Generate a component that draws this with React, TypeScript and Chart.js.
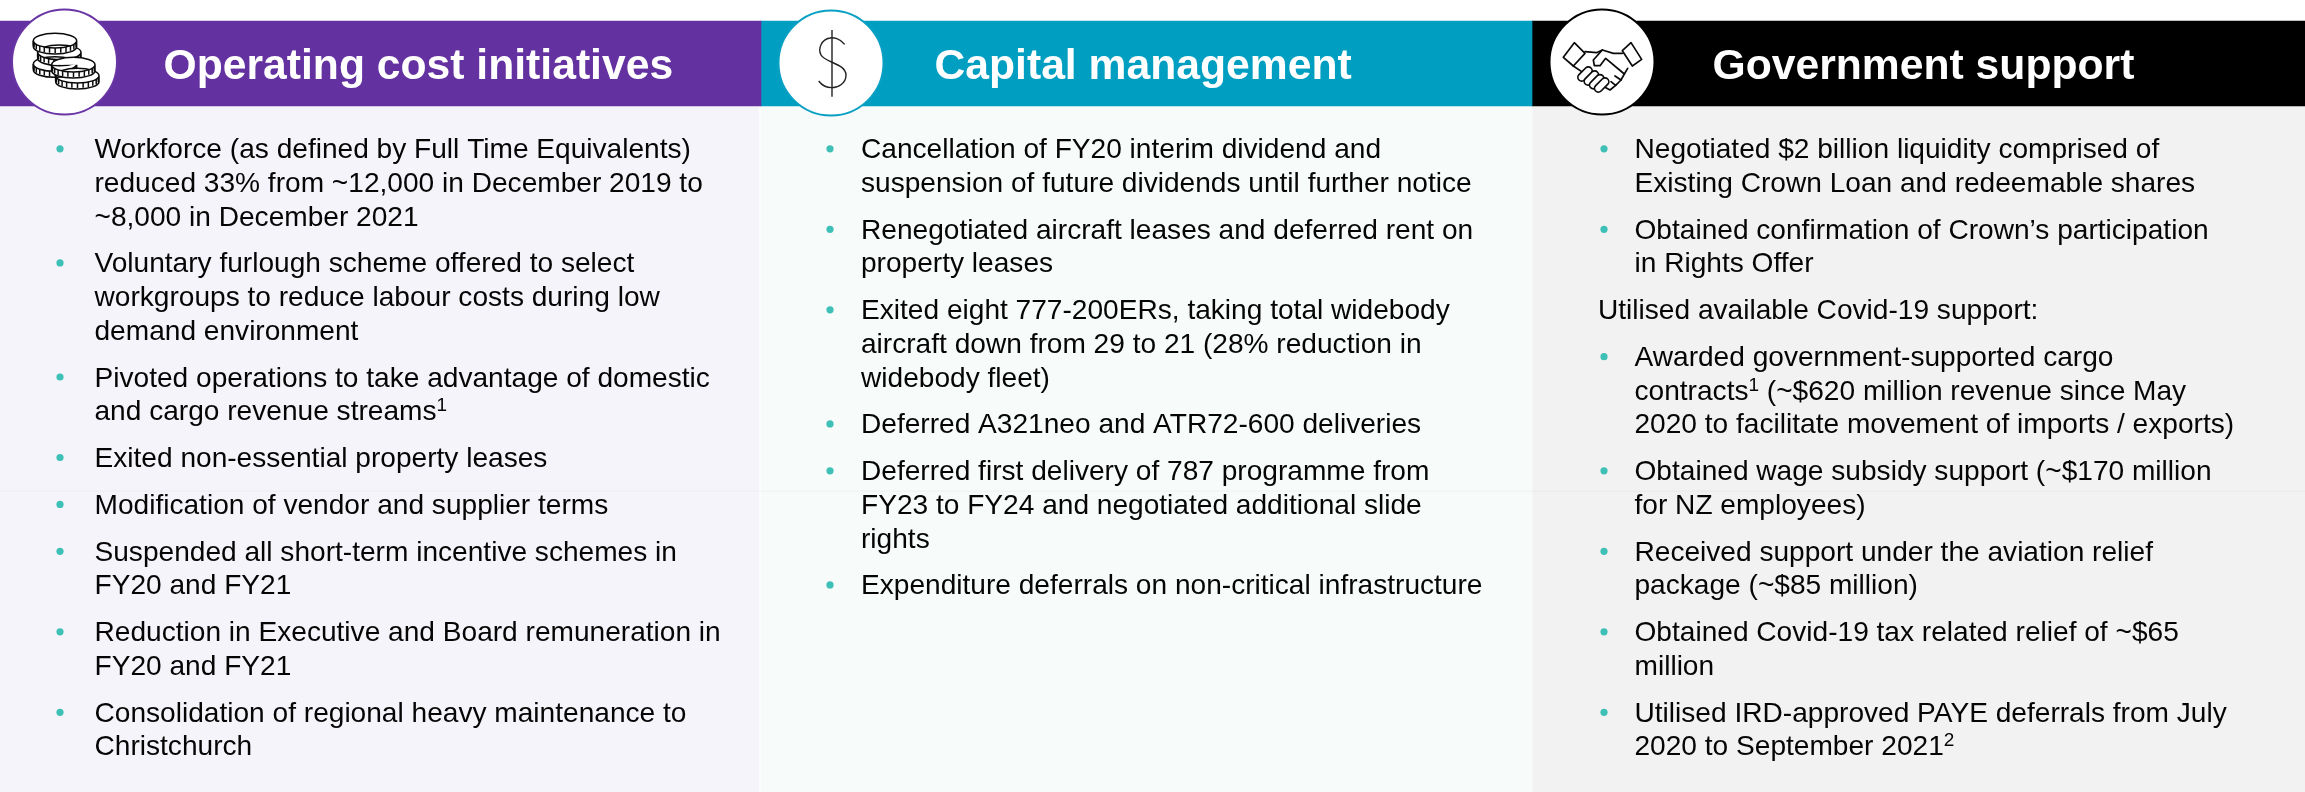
import React, { useEffect, useRef } from "react";
import { Chart, registerables } from "chart.js";

Chart.register(...registerables);

const panelTitles = ["Operating cost initiatives", "Capital management", "Government support"];

type Item = { lines: string[]; bullet: boolean };
const b = (...lines: string[]): Item => ({ lines, bullet: true });
const p = (...lines: string[]): Item => ({ lines, bullet: false });

const operatingItems: Item[] = [
  b("Workforce (as defined by Full Time Equivalents)", "reduced 33% from ~12,000 in December 2019 to", "~8,000 in December 2021"),
  b("Voluntary furlough scheme offered to select", "workgroups to reduce labour costs during low", "demand environment"),
  b("Pivoted operations to take advantage of domestic", "and cargo revenue streams^1"),
  b("Exited non-essential property leases"),
  b("Modification of vendor and supplier terms"),
  b("Suspended all short-term incentive schemes in", "FY20 and FY21"),
  b("Reduction in Executive and Board remuneration in", "FY20 and FY21"),
  b("Consolidation of regional heavy maintenance to", "Christchurch"),
];
const capitalItems: Item[] = [
  b("Cancellation of FY20 interim dividend and", "suspension of future dividends until further notice"),
  b("Renegotiated aircraft leases and deferred rent on", "property leases"),
  b("Exited eight 777-200ERs, taking total widebody", "aircraft down from 29 to 21 (28% reduction in", "widebody fleet)"),
  b("Deferred A321neo and ATR72-600 deliveries"),
  b("Deferred first delivery of 787 programme from", "FY23 to FY24 and negotiated additional slide", "rights"),
  b("Expenditure deferrals on non-critical infrastructure"),
];
const governmentItems: Item[] = [
  b("Negotiated $2 billion liquidity comprised of", "Existing Crown Loan and redeemable shares"),
  b("Obtained confirmation of Crown\u2019s participation", "in Rights Offer"),
  p("Utilised available Covid-19 support:"),
  b("Awarded government-supported cargo", "contracts^1 (~$620 million revenue since May", "2020 to facilitate movement of imports / exports)"),
  b("Obtained wage subsidy support (~$170 million", "for NZ employees)"),
  b("Received support under the aviation relief", "package (~$85 million)"),
  b("Obtained Covid-19 tax related relief of ~$65", "million"),
  b("Utilised IRD-approved PAYE deferrals from July", "2020 to September 2021^2"),
];

const W = 2305, H = 792;
const FONT = '"Liberation Sans", Arial, sans-serif';
const layout = [
  { left: 0, right: 761, bodyRight: 759, body: "#f6f4fb", head: "#6331a0", ring: "#6a35a5", cx: 64.5, titleX: 163.5, textX: 94.5, bulletX: 60, plainX: 0 },
  { left: 761, right: 1532, bodyRight: 1532, body: "#f7fbfa", head: "#009fc2", ring: "#0aa0c4", cx: 831, titleX: 934.5, textX: 861, bulletX: 830, plainX: 0 },
  { left: 1532, right: 2305, bodyRight: 2305, body: "#f2f2f2", head: "#000000", ring: "#000000", cx: 1602, titleX: 1712.5, textX: 1634.5, bulletX: 1604, plainX: 1598 },
];
const HEAD_TOP = 21, HEAD_BOTTOM = 106;
const FIRST_BASE = 158.3, LINE = 33.6, GAP = 13.3, BODY_SIZE = 28.1, TITLE_SIZE = 42.67, TITLE_BASE = 78.5;
const allItems = [operatingItems, capitalItems, governmentItems];

function walk(items: Item[], fn: (line: string, base: number, first: boolean, it: Item) => void) {
  let y = FIRST_BASE;
  items.forEach((it) => {
    it.lines.forEach((l, i) => {
      fn(l, y, i === 0, it);
      y += LINE;
    });
    y += GAP;
  });
}

function drawRich(ctx: CanvasRenderingContext2D, s: string, x: number, y: number) {
  const parts = s.split(/\^(\d)/);
  let cx = x;
  parts.forEach((part, i) => {
    if (!part) return;
    if (i % 2 === 1) {
      ctx.font = `${Math.round(BODY_SIZE * 0.66)}px ${FONT}`;
      ctx.fillText(part, cx, y - 9);
    } else {
      ctx.font = `${BODY_SIZE}px ${FONT}`;
      ctx.fillText(part, cx, y);
    }
    cx += ctx.measureText(part).width;
  });
}

function coin(ctx: CanvasRenderingContext2D, cx: number, cy: number, rx: number, ry: number, t: number) {
  ctx.beginPath();
  ctx.moveTo(cx - rx, cy);
  ctx.lineTo(cx - rx, cy + t);
  ctx.ellipse(cx, cy + t, rx, ry, 0, Math.PI, 0, true);
  ctx.lineTo(cx + rx, cy);
  ctx.ellipse(cx, cy, rx, ry, 0, 0, Math.PI * 2);
  ctx.fillStyle = "#fff";
  ctx.fill();
  ctx.stroke();
  for (let a = 0.08; a < 1; a += 0.0835) {
    const ang = Math.PI * a;
    const px = cx + rx * Math.cos(ang);
    const py = cy + ry * Math.sin(ang);
    ctx.beginPath();
    ctx.moveTo(px, py);
    ctx.lineTo(px, py + t - 1);
    ctx.stroke();
  }
}

function coinsIcon(ctx: CanvasRenderingContext2D) {
  const X = (v: number) => 5 + v / 3;
  const Y = (v: number) => v / 3;
  ctx.strokeStyle = "#0a0a0a";
  ctx.lineWidth = 1.5;
  const r = 65 / 3, ry = 22 / 3, t = 6;
  coin(ctx, X(150), Y(192), r, ry, t);
  coin(ctx, X(163), Y(157), r, ry, t);
  coin(ctx, X(150), Y(122), r, ry, t);
  coin(ctx, X(217), Y(227), r, ry, t);
  coin(ctx, X(205), Y(194), r, ry, t);
}

function dollarIcon(ctx: CanvasRenderingContext2D) {
  const X = (v: number) => 775 + v / 3;
  const Y = (v: number) => v / 3;
  ctx.strokeStyle = "#222";
  ctx.lineWidth = 1.4;
  ctx.beginPath();
  ctx.moveTo(X(171), Y(90));
  ctx.lineTo(X(171), Y(290));
  ctx.stroke();
  ctx.beginPath();
  ctx.moveTo(X(209), Y(133));
  ctx.bezierCurveTo(X(195), Y(115), X(175), Y(112), X(165), Y(114));
  ctx.bezierCurveTo(X(140), Y(118), X(128), Y(145), X(138), Y(165));
  ctx.bezierCurveTo(X(150), Y(188), X(212), Y(190), X(213), Y(225));
  ctx.bezierCurveTo(X(213), Y(250), X(190), Y(263), X(170), Y(263));
  ctx.bezierCurveTo(X(152), Y(263), X(140), Y(255), X(131), Y(243));
  ctx.stroke();
}

function handshakeIcon(ctx: CanvasRenderingContext2D) {
  const X = (v: number) => 1545 + v / 3;
  const Y = (v: number) => v / 3;
  const poly = (pts: number[][], close = false) => {
    ctx.beginPath();
    pts.forEach(([x, y], i) => (i ? ctx.lineTo(X(x), Y(y)) : ctx.moveTo(X(x), Y(y))));
    if (close) ctx.closePath();
    ctx.stroke();
  };
  ctx.strokeStyle = "#0a0a0a";
  ctx.lineWidth = 1.7;
  ctx.lineJoin = "round";
  ctx.lineCap = "round";
  poly([[88, 128], [120, 160], [85, 198], [55, 172]], true);
  poly([[258, 128], [290, 178], [262, 198], [232, 152]], true);
  poly([[120, 155], [155, 158], [172, 150], [205, 160], [232, 160]]);
  poly([[172, 150], [145, 180], [148, 197], [165, 197], [182, 175], [238, 222], [228, 240], [210, 228]]);
  poly([[248, 205], [238, 222]]);
  poly([[228, 240], [212, 256], [198, 245]]);
  poly([[212, 256], [195, 270], [180, 262]]);
  poly([[85, 198], [110, 215]]);
  const capsule = (x: number, y: number) => {
    ctx.save();
    ctx.translate(X(x), Y(y));
    ctx.rotate(-Math.PI / 4);
    ctx.beginPath();
    ctx.roundRect(-8.5, -3.8, 17, 7.6, 3.8);
    ctx.fillStyle = "#fff";
    ctx.fill();
    ctx.stroke();
    ctx.restore();
  };
  capsule(120, 222);
  capsule(139, 234);
  capsule(155, 245);
  capsule(170, 255);
}

const overlay = {
  id: "overlay",
  afterDatasetsDraw(chart: any) {
    const ctx: CanvasRenderingContext2D = chart.ctx;
    const sx = (v: number) => chart.scales.x.getPixelForValue(v);
    const sy = (v: number) => chart.scales.y.getPixelForValue(v);
    ctx.save();
    // faint seam across the body panels
    ctx.fillStyle = "rgba(120,100,130,0.04)";
    ctx.fillRect(sx(0), sy(490.5), sx(W), 1.5);
    layout.forEach((l, i) => {
      ctx.fillStyle = "#ffffff";
      ctx.font = `bold ${TITLE_SIZE}px ${FONT}`;
      ctx.textBaseline = "alphabetic";
      ctx.textAlign = "left";
      ctx.fillText(panelTitles[i], sx(l.titleX), sy(TITLE_BASE));
      ctx.beginPath();
      ctx.arc(sx(l.cx), sy(i === 1 ? 63 : 62), 52.5, 0, Math.PI * 2);
      ctx.fillStyle = "#fff";
      ctx.fill();
      ctx.strokeStyle = l.ring;
      ctx.lineWidth = 2;
      ctx.stroke();
      ctx.fillStyle = "#050505";
      walk(allItems[i], (line, base, _first, it) => {
        drawRich(ctx, line, sx(it.bullet ? l.textX : l.plainX), sy(base));
      });
    });
    ctx.save();
    coinsIcon(ctx);
    dollarIcon(ctx);
    handshakeIcon(ctx);
    ctx.restore();
    ctx.restore();
  },
};

export default function App() {
  const ref = useRef<HTMLCanvasElement>(null);
  useEffect(() => {
    if (!ref.current) return;
    const bullets: { x: number; y: number }[] = [];
    layout.forEach((l, i) =>
      walk(allItems[i], (_line, base, first, it) => {
        if (first && it.bullet) bullets.push({ x: l.bulletX, y: base - 9.5 });
      })
    );
    const chart = new Chart(ref.current, {
      type: "bar",
      data: {
        datasets: [
          ...layout.map((l, i) => ({
            type: "bar" as const,
            label: panelTitles[i] + " body",
            data: [{ x: (l.left + l.bodyRight) / 2, y: [HEAD_BOTTOM, H] }],
            barThickness: l.bodyRight - l.left,
            backgroundColor: l.body,
            grouped: false,
            order: 3,
          })),
          ...layout.map((l, i) => ({
            type: "bar" as const,
            label: panelTitles[i] + " header",
            data: [{ x: (l.left + l.right) / 2, y: [HEAD_TOP, HEAD_BOTTOM] }],
            barThickness: l.right - l.left,
            backgroundColor: l.head,
            grouped: false,
            order: 2,
          })),
          {
            type: "scatter" as const,
            label: "bullets",
            data: bullets,
            pointRadius: 3.6,
            pointBackgroundColor: "#3fc0b7",
            pointBorderWidth: 0,
            showLine: false,
            order: 1,
          },
        ],
      } as any,
      options: {
        animation: false,
        responsive: false,
        layout: { padding: 0, autoPadding: false },
        plugins: { legend: { display: false }, tooltip: { enabled: false } },
        scales: {
          x: { type: "linear", min: 0, max: W, display: false, offset: false },
          y: { type: "linear", min: 0, max: H, reverse: true, display: false },
        },
      } as any,
      plugins: [overlay],
    });
    return () => chart.destroy();
  }, []);
  return (
    <canvas
      ref={ref}
      width={W}
      height={H}
      style={{ position: "absolute", left: 0, top: 0, display: "block", width: W, height: H }}
    />
  );
}
